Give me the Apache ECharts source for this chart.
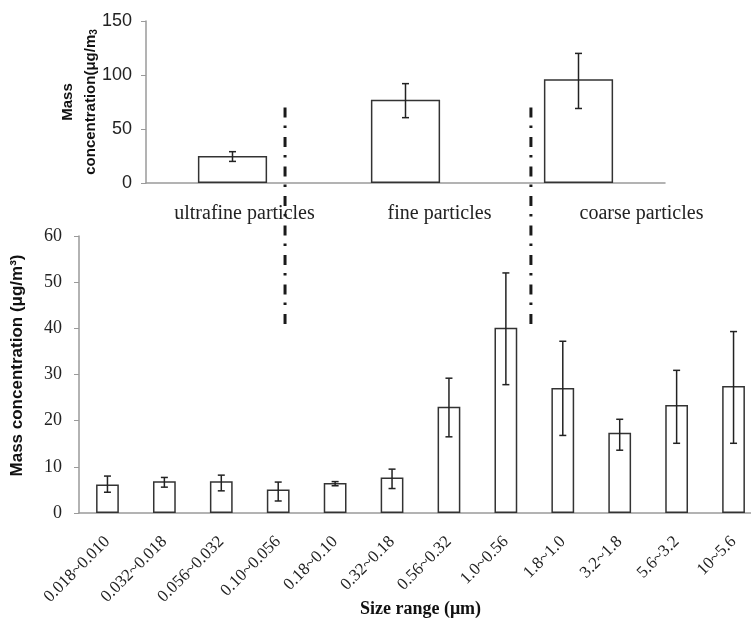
<!DOCTYPE html>
<html>
<head>
<meta charset="utf-8">
<script src="https://cdn.jsdelivr.net/npm/echarts@6/dist/echarts.min.js"></script>
<style>
  html, body { margin: 0; padding: 0; background: #fff; }
  #main { width: 751px; height: 630px; }
</style>
</head>
<body>
<div id="main"></div>
<script>
// particle groups (top panel)
const groupNames = ["ultrafine particles", "fine particles", "coarse particles"];
const groupMean = [25, 77, 96];
const groupLow = [20, 60.5, 69];
const groupHigh = [29, 92, 120];

// size bins (bottom panel)
const sizeBins = ["0.018~0.010", "0.032~0.018", "0.056~0.032", "0.10~0.056", "0.18~0.10", "0.32~0.18",
  "0.56~0.32", "1.0~0.56", "1.8~1.0", "3.2~1.8", "5.6~3.2", "10~5.6"];
const binMean = [6.2, 6.9, 6.9, 5.1, 6.5, 7.7, 23.0, 40.1, 27.1, 17.4, 23.4, 27.5];
const binLow = [4.5, 5.6, 4.8, 2.6, 5.9, 5.3, 16.5, 27.8, 16.8, 13.6, 15.1, 15.1];
const binHigh = [8.0, 7.7, 8.2, 6.7, 6.8, 9.5, 29.2, 52.0, 37.2, 20.3, 30.9, 39.3];

// dash-dot separators: position on the size-bin axis, from top-panel value down to bottom-panel value
const dividerAt = [3.12, 7.44];
const dividerTop = 70;
const dividerBottom = 40;

// the top category labels sit a bit right of their bars
const topLabelPad = [24, 68, 126];

const serif = "Liberation Serif";
const sans = "Liberation Sans";
const axisGray = "#9a9a9a";

const chartInstance = echarts.init(document.getElementById("main"));

function errorBars(params, api) {
  const i = api.value(0);
  const lo = api.coord([i, api.value(1)]);
  const hi = api.coord([i, api.value(2)]);
  const half = 3.5;
  const style = { stroke: "#222", lineWidth: 1.5 };
  return {
    type: "group",
    children: [
      { type: "line", shape: { x1: lo[0], y1: lo[1], x2: hi[0], y2: hi[1] }, style },
      { type: "line", shape: { x1: hi[0] - half, y1: hi[1], x2: hi[0] + half, y2: hi[1] }, style },
      { type: "line", shape: { x1: lo[0] - half, y1: lo[1], x2: lo[0] + half, y2: lo[1] }, style },
    ],
  };
}

const topRich = {};
topLabelPad.forEach((p, i) => {
  topRich["p" + i] = { padding: [0, 0, 0, p], fontFamily: serif, fontSize: 20, color: "#222" };
});

const option = {
  animation: false,
  grid: [
    { left: 146, top: 21, width: 519, height: 162, outerBoundsMode: "none" },
    { left: 79, top: 236, width: 683, height: 277, outerBoundsMode: "none" },
  ],
  xAxis: [
    {
      type: "category",
      gridIndex: 0,
      data: groupNames,
      axisLine: { lineStyle: { color: axisGray, width: 1.5 } },
      axisTick: { length: 5, lineStyle: { color: axisGray } },
      axisLabel: {
        interval: 0,
        margin: 21,
        formatter: (v, i) => "{p" + i + "|" + v + "}",
        rich: topRich,
      },
    },
    {
      type: "category",
      gridIndex: 1,
      data: sizeBins,
      axisLine: { lineStyle: { color: axisGray, width: 1.5 } },
      axisTick: { length: 5, lineStyle: { color: axisGray } },
      axisLabel: {
        interval: 0,
        rotate: 45,
        margin: 26,
        fontFamily: serif,
        fontSize: 17,
        color: "#222",
      },
      name: "Size range (\u03bcm)",
      nameLocation: "middle",
      nameGap: 87,
      nameMoveOverlap: false,
      nameTextStyle: { fontFamily: serif, fontSize: 18, fontWeight: "bold", color: "#111" },
    },
  ],
  yAxis: [
    {
      type: "value",
      gridIndex: 0,
      min: 0,
      max: 150,
      interval: 50,
      splitLine: { show: false },
      axisLine: { show: true, lineStyle: { color: axisGray, width: 1.5 } },
      axisTick: { show: true, length: 5, lineStyle: { color: axisGray } },
      axisLabel: { fontFamily: sans, fontSize: 18, color: "#222", margin: 14 },
      name: "{b|Mass}\n{b|concentration(\u03bcg/m}{s|3}",
      nameLocation: "middle",
      nameGap: 44,
      nameMoveOverlap: false,
      nameTextStyle: {
        rich: {
          b: { fontFamily: sans, fontSize: 15, fontWeight: "bold", color: "#111", lineHeight: 23 },
          s: { fontFamily: sans, fontSize: 10, fontWeight: "bold", color: "#111", padding: [7, 0, 0, 0], lineHeight: 23 },
        },
      },
    },
    {
      type: "value",
      gridIndex: 1,
      min: 0,
      max: 60,
      interval: 10,
      splitLine: { show: false },
      axisLine: { show: true, lineStyle: { color: axisGray, width: 1.5 } },
      axisTick: { show: true, length: 5, lineStyle: { color: axisGray } },
      axisLabel: { fontFamily: serif, fontSize: 18, color: "#222", margin: 17 },
      name: "Mass concentration (\u03bcg/m\u00b3)",
      nameLocation: "middle",
      nameGap: 53,
      nameMoveOverlap: false,
      nameTextStyle: { fontFamily: sans, fontSize: 17, fontWeight: "bold", color: "#111", padding: [0, 0, 0, 18] },
    },
  ],
  series: [
    {
      type: "bar",
      xAxisIndex: 0,
      yAxisIndex: 0,
      data: groupMean,
      barWidth: "40%",
      itemStyle: { color: "#fff", borderColor: "#333", borderWidth: 1.5 },
    },
    {
      type: "custom",
      xAxisIndex: 0,
      yAxisIndex: 0,
      renderItem: errorBars,
      encode: { x: 0, y: [1, 2] },
      data: groupMean.map((v, i) => [i, groupLow[i], groupHigh[i]]),
      z: 5,
    },
    {
      type: "bar",
      xAxisIndex: 1,
      yAxisIndex: 1,
      data: binMean,
      barWidth: "40%",
      itemStyle: { color: "#fff", borderColor: "#333", borderWidth: 1.5 },
    },
    {
      type: "custom",
      xAxisIndex: 1,
      yAxisIndex: 1,
      renderItem: errorBars,
      encode: { x: 0, y: [1, 2] },
      data: binMean.map((v, i) => [i, binLow[i], binHigh[i]]),
      z: 5,
    },
  ],
};

chartInstance.setOption(option);

// place the dash-dot separators through the axes
const yTop = chartInstance.convertToPixel({ yAxisIndex: 0 }, dividerTop);
const yBottom = chartInstance.convertToPixel({ yAxisIndex: 1 }, dividerBottom);
const dividers = dividerAt.map((pos) => {
  const k = Math.floor(pos);
  const a = chartInstance.convertToPixel({ xAxisIndex: 1 }, k);
  const b = chartInstance.convertToPixel({ xAxisIndex: 1 }, k + 1);
  const x = a + (pos - k) * (b - a);
  return {
    type: "line",
    shape: { x1: x, y1: yTop, x2: x, y2: yBottom },
    style: { stroke: "#1a1a1a", lineWidth: 3, lineDash: [10, 8, 2.5, 9] },
    z: 10,
  };
});
chartInstance.setOption({ graphic: dividers });
</script>
</body>
</html>
